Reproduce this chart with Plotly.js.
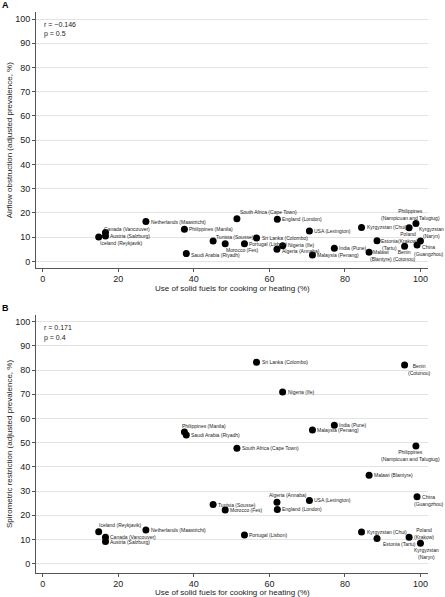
<!DOCTYPE html>
<html>
<head>
<meta charset="utf-8">
<script src="https://cdn.plot.ly/plotly-3.0.1.min.js"></script>
<style>html,body{margin:0;padding:0;background:#fff;}#chart{width:445px;height:597px;}</style>
</head>
<body>
<div id="chart"></div>
<script>
// ---- data ----
const countries = [
  "Iceland (Reykjavik)", "Canada (Vancouver)", "Austria (Salzburg)", "Netherlands (Maastricht)",
  "Philippines (Manila)", "Saudi Arabia (Riyadh)", "Tunisia (Sousse)", "Morocco (Fes)",
  "South Africa (Cape Town)", "Portugal (Lisbon)", "Sri Lanka (Colombo)", "Algeria (Annaba)",
  "England (London)", "Nigeria (Ife)", "USA (Lexington)", "Malaysia (Penang)", "India (Pune)",
  "Kyrgyzstan (Chui)", "Malawi (Blantyre)", "Estonia (Tartu)", "Benin (Cotonou)", "Poland (Krakow)",
  "Philippines (Nampicuan and Talugtug)", "China (Guangzhou)", "Kyrgyzstan (Naryn)"
];
const solidFuel = [14.8, 16.6, 16.6, 27.3, 37.5, 38.0, 45.1, 48.3, 51.4, 53.4, 56.6, 62.0, 62.1, 63.5,
  70.6, 71.4, 77.2, 84.4, 86.4, 88.5, 95.8, 97.0, 98.8, 99.1, 100.0];
const airflowObstruction = [10.0, 11.9, 10.5, 16.4, 13.2, 3.2, 8.4, 7.3, 17.6, 7.3, 9.6, 5.0, 17.4, 6.4,
  12.5, 2.6, 5.4, 14.0, 3.8, 8.5, 6.2, 13.9, 15.6, 6.7, 8.4];
const spirometricRestriction = [13.2, 10.9, 9.1, 13.9, 54.4, 53.2, 24.4, 22.1, 47.7, 11.8, 83.2, 25.4, 22.4, 70.9,
  26.1, 55.2, 57.2, 13.1, 36.5, 10.4, 82.1, 10.9, 48.6, 27.6, 8.4];
const xTicks = [0, 20, 40, 60, 80, 100];
const yTicks = [0, 10, 20, 30, 40, 50, 60, 70, 80, 90, 100];
const xTitle = "Use of solid fuels for cooking or heating (%)";
const yTitleA = "Airflow obstruction (adjusted prevalence, %)";
const yTitleB = "Spirometric restriction (adjusted prevalence, %)";
const statsA = ["r = \u22120.146", "p = 0.5"];
const statsB = ["r = 0.171", "p = 0.4"];

// ---- label placement (style only) ----
const placeA = {
  "Iceland (Reykjavik)": {xa:"left", ya:"top", dx:0, dy:-2},
  "Canada (Vancouver)": {xa:"left", ya:"bottom", dx:-2, dy:0},
  "Saudi Arabia (Riyadh)": {dy:-1},
  "Tunisia (Sousse)": {xa:"left", ya:"bottom", dx:2, dy:0},
  "Morocco (Fes)": {xa:"left", ya:"top", dx:0, dy:-2},
  "South Africa (Cape Town)": {xa:"left", ya:"bottom", dx:2, dy:3},
  "Nigeria (Ife)": {dy:1},
  "Algeria (Annaba)": {dy:-2},
  "Malawi (Blantyre)": {t:"Malawi<br>(Blantyre)", xa:"left", ya:"top", dx:0, dy:4},
  "Estonia (Tartu)": {t:"Estonia<br>(Tartu)", xa:"left", ya:"top", dx:3, dy:4},
  "Benin (Cotonou)": {t:"Benin<br>(Cotonou)", xa:"center", ya:"top", dx:0, dy:-2},
  "Poland (Krakow)": {t:"Poland<br>(Krakow)", xa:"center", ya:"top", dx:-1, dy:-2},
  "Philippines (Nampicuan and Talugtug)": {t:"Philippines<br>(Nampicuan and Talugtug)", xa:"center", ya:"bottom", dx:-5, dy:2},
  "China (Guangzhou)": {t:"China<br>(Guangzhou)", xa:"center", ya:"top", dx:12, dy:2},
  "Kyrgyzstan (Naryn)": {t:"Kyrgyzstan<br>(Naryn)", xa:"center", ya:"bottom", dx:11, dy:1}
};
const placeB = {
  "Iceland (Reykjavik)": {xa:"left", ya:"bottom", dx:-1, dy:3},
  "Philippines (Manila)": {xa:"left", ya:"bottom", dx:-3, dy:2},
  "Algeria (Annaba)": {xa:"left", ya:"bottom", dx:-9, dy:3},
  "Estonia (Tartu)": {xa:"left", ya:"top", dx:5, dy:-2},
  "Benin (Cotonou)": {t:"Benin<br>(Cotonou)", xa:"left", ya:"top", dx:2, dy:3},
  "Poland (Krakow)": {t:"Poland<br>(Krakow)", xa:"left", ya:"middle", dx:4, dy:3.5},
  "Philippines (Nampicuan and Talugtug)": {t:"Philippines<br>(Nampicuan and Talugtug)", xa:"center", ya:"top", dx:-5, dy:-2},
  "China (Guangzhou)": {t:"China<br>(Guangzhou)", xa:"center", ya:"top", dx:12, dy:4},
  "Kyrgyzstan (Naryn)": {t:"Kyrgyzstan<br>(Naryn)", xa:"center", ya:"top", dx:6, dy:-3}
};

const FONT = "Liberation Sans, Arial, Helvetica, sans-serif";
const axisCol = "#555";
const gridCol = "#e3e3e3";

function labelAnns(yvals, place, xref, yref) {
  return countries.map((c, i) => {
    const p = Object.assign({t:c, xa:"left", ya:"middle", dx:4, dy:0}, place[c] || {});
    return {
      x: solidFuel[i], y: yvals[i], xref: xref, yref: yref,
      text: p.t, showarrow: false, xanchor: p.xa, yanchor: p.ya,
      xshift: p.dx, yshift: p.dy, align: "center",
      font: {family: FONT, size: 5, color: "#222"}, borderpad: 0
    };
  });
}

const traces = [
  {x: solidFuel, y: airflowObstruction, xaxis: "x", yaxis: "y", type: "scatter", mode: "markers",
   marker: {color: "#000", size: 7}, hoverinfo: "skip", cliponaxis: false},
  {x: solidFuel, y: spirometricRestriction, xaxis: "x2", yaxis: "y2", type: "scatter", mode: "markers",
   marker: {color: "#000", size: 7}, hoverinfo: "skip", cliponaxis: false}
];

function xAx(anchor) {
  return {
    anchor: anchor, domain: [0, 1], range: [-1.8, 102], tickvals: xTicks,
    showline: true, linecolor: axisCol, linewidth: 1, ticks: "outside", ticklen: 3, tickcolor: axisCol,
    ticklabelstandoff: -1,
    showgrid: false, zeroline: false, automargin: false,
    tickfont: {family: FONT, size: 9, color: "#222"}
  };
}
function yAx(anchor, domain, range, title) {
  return {
    anchor: anchor, domain: domain, range: range, tickvals: yTicks,
    showline: true, linecolor: axisCol, linewidth: 1, ticks: "outside", ticklen: 3, tickcolor: axisCol,
    showgrid: true, gridcolor: gridCol, gridwidth: 1, zeroline: false, automargin: false,
    tickfont: {family: FONT, size: 9, color: "#222"},
    title: {text: title, font: {family: FONT, size: 8, color: "#222"}, standoff: 1}
  };
}

const statAnn = (txt, yref, yv) => ({
  xref: "x domain", yref: yref, x: 0.015, y: yv, text: txt, showarrow: false,
  xanchor: "left", yanchor: "middle", font: {family: FONT, size: 7, color: "#222"}
});
const xTitleAnn = (yv) => ({
  xref: "paper", yref: "paper", x: 0.5, y: yv, text: xTitle, showarrow: false,
  xanchor: "center", yanchor: "middle", font: {family: FONT, size: 8, color: "#222"}
});

const annotations = []
  .concat(labelAnns(airflowObstruction, placeA, "x", "y"))
  .concat(labelAnns(spirometricRestriction, placeB, "x2", "y2"))
  .concat([
    statAnn(statsA[0], "y domain", 0.953), statAnn(statsA[1], "y domain", 0.914),
    statAnn(statsB[0], "y2 domain", 0.952), statAnn(statsB[1], "y2 domain", 0.910),
    xTitleAnn(0.507), xTitleAnn(-0.035),
    {xref: "paper", yref: "paper", x: -0.092, y: 1.012, text: "<b>A</b>", showarrow: false,
     xanchor: "left", yanchor: "middle", font: {family: FONT, size: 9, color: "#000"}},
    {xref: "paper", yref: "paper", x: -0.092, y: 0.472, text: "<b>B</b>", showarrow: false,
     xanchor: "left", yanchor: "middle", font: {family: FONT, size: 9, color: "#000"}}
  ]);

const layout = {
  width: 445, height: 597,
  margin: {l: 36, r: 17, t: 12, b: 24},
  paper_bgcolor: "#fff", plot_bgcolor: "#fff",
  showlegend: false,
  font: {family: FONT},
  xaxis: xAx("y"),
  yaxis: yAx("x", [0.543, 1], [-2.9, 102.9], yTitleA),
  xaxis2: xAx("y2"),
  yaxis2: yAx("x2", [0, 0.46], [-3.9, 102.8], yTitleB),
  annotations: annotations
};

Plotly.newPlot("chart", traces, layout, {staticPlot: true, displayModeBar: false});
</script>
</body>
</html>
